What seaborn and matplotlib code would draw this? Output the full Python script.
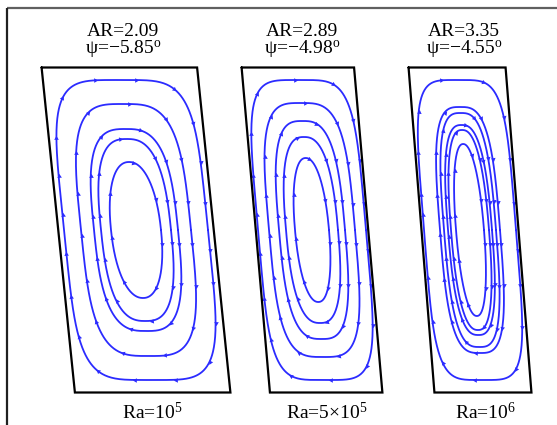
import numpy as np
import pandas as pd
import matplotlib
matplotlib.use("Agg")
import matplotlib.pyplot as plt
import seaborn as sns

# ---- data -------------------------------------------------------------
aspect_ratios = [2.09, 2.89, 3.35]
tilt_deg = [-5.85, -4.98, -4.55]
ra_labels = [r"Ra=10$^{5}$", r"Ra=5×10$^{5}$", r"Ra=10$^{6}$"]

# closed streamlines of each cell: half-width, half-height (px, in the
# cavity frame) and squareness exponent of each loop, outermost first
half_w = [[72, 55, 42, 35, 25],
          [54, 43, 33, 26, 17],
          [46, 30, 26, 22, 19, 14]]
half_h = [[150, 126, 101, 91, 68],
          [150, 127, 109, 93, 72],
          [150, 123, 117, 105, 100, 86]]
squareness = [[4.5, 3.5, 3.0, 2.7, 2.2],
              [4.5, 3.5, 3.0, 2.6, 2.2],
              [4.5, 3.2, 3.0, 2.7, 2.5, 2.2]]

# ---- layout ------------------------------------------------------------
W_PX, H_PX = 557, 425
CAV_H = 325.0
CY = 230.0
cavity_cx = [136.0, 312.0, 470.0]
title_x = [123, 302, 464]
ra_x = [152, 327, 485]
BLUE = "#2b2bff"

sns.set_theme(style="white")
plt.rcParams["font.family"] = ["Liberation Serif", "DejaVu Serif"]
plt.rcParams["mathtext.fontset"] = "custom"
plt.rcParams["mathtext.rm"] = "Liberation Serif"
plt.rcParams["mathtext.it"] = "Liberation Serif:italic"

fig = plt.figure(figsize=(W_PX / 100, H_PX / 100), dpi=100)
ax = fig.add_axes([0, 0, 1, 1])
ax.set_xlim(0, W_PX)
ax.set_ylim(H_PX, 0)
ax.axis("off")


def to_px(u, v, cx, shear):
    """cavity frame (u across, v up from centre) -> pixel coordinates"""
    return cx + u - v * shear, CY - v


rows = []
arrows = []
for p in range(3):
    shear = np.tan(np.radians(-tilt_deg[p]))
    cx = cavity_cx[p]
    cav_w = CAV_H / aspect_ratios[p]
    # cavity outline
    cu = np.array([-cav_w / 2, cav_w / 2, cav_w / 2, -cav_w / 2, -cav_w / 2])
    cv = np.array([CAV_H / 2, CAV_H / 2, -CAV_H / 2, -CAV_H / 2, CAV_H / 2])
    ox, oy = to_px(cu, cv, cx, shear)
    ax.plot(ox, oy, color="black", lw=1.6, solid_joinstyle="miter", zorder=3)

    for k, (a, b, n) in enumerate(zip(half_w[p], half_h[p], squareness[p])):
        t = np.linspace(0, -2 * np.pi, 600)  # clockwise circulation
        c, s = np.cos(t), np.sin(t)
        u = a * np.sign(c) * np.abs(c) ** (2 / n)
        v = b * np.sign(s) * np.abs(s) ** (2 / n)
        x, y = to_px(u, v, cx, shear)
        for xi, yi in zip(x, y):
            rows.append((f"{p}-{k}", xi, yi))
        # arrowheads spaced evenly along the loop
        seg = np.hypot(np.diff(x), np.diff(y))
        arc = np.concatenate([[0], np.cumsum(seg)])
        n_arr = max(6, int(arc[-1] / 40))
        for s_pos in (np.arange(n_arr) + 0.3) * arc[-1] / n_arr:
            i = min(np.searchsorted(arc, s_pos), len(x) - 2)
            ang = np.degrees(np.arctan2(-(y[i + 1] - y[i]), x[i + 1] - x[i]))
            arrows.append((x[i], y[i], ang - 90))

df = pd.DataFrame(rows, columns=["loop", "x", "y"])
sns.lineplot(data=df, x="x", y="y", units="loop", estimator=None, sort=False,
             color=BLUE, lw=1.3, ax=ax, legend=False, zorder=2)
for xa, ya, rot in arrows:
    ax.plot(xa, ya, marker=(3, 0, rot), ms=3.8, color=BLUE, mew=0, zorder=2)

ax.set_xlim(0, W_PX)
ax.set_ylim(H_PX, 0)
ax.axis("off")

for p in range(3):
    ax.text(title_x[p], 36, f"AR={aspect_ratios[p]:.2f}", ha="center",
            va="baseline", fontsize=14, color="black")
    ax.text(title_x[p], 54, "ψ=−" + f"{abs(tilt_deg[p]):.2f}" + r"$^{\mathrm{o}}$",
            ha="center", va="baseline", fontsize=14, color="black")
    ax.text(ra_x[p], 419, ra_labels[p], ha="center", va="baseline",
            fontsize=14, color="black")

# frame
ax.plot([7, W_PX], [8, 8], color="#606060", lw=1.6, solid_capstyle="butt")
ax.plot([7, 7], [8, H_PX], color="#202020", lw=1.6, solid_capstyle="butt")

fig.savefig("out.png", dpi=100)
